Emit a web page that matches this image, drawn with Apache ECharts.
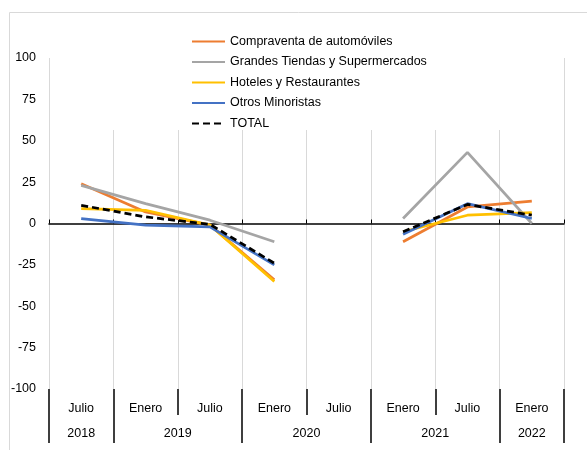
<!DOCTYPE html>
<html>
<head>
<meta charset="utf-8">
<script src="https://cdn.jsdelivr.net/npm/echarts@6/dist/echarts.min.js"></script>
<style>
  html, body { margin: 0; padding: 0; background: #fff; }
  #chart { width: 587px; height: 450px; }
</style>
</head>
<body>
<div id="chart"></div>
<script>
// categorias del eje (mes / año)
const meses = ["Julio", "Enero", "Julio", "Enero", "Julio", "Enero", "Julio", "Enero"];
const anios = ["2018", "2019", "2020", "2021", "2022"];
// posiciones de los años sobre el eje de meses (0..8)
const aniosPos = [0.5, 2, 4, 6, 7.5];
const aniosCortes = [0, 1, 3, 5, 7, 8];
const yTicks = [-100, -75, -50, -25, 0, 25, 50, 75, 100];

// series (Julio 2020 sin dato)
const compraventa = [24, 7, -1, -34, null, -11, 10, 13.5];
const grandesTiendas = [23, 12, 2, -11, null, 3, 43, 0];
const hoteles = [9, 8, -1, -35, null, -5, 5, 6.5];
const otros = [3, -1, -2, -25, null, -6.5, 12, 3];
const total = [11, 4, -0.5, -24, null, -5, 11.5, 5];

const fuente = "Liberation Sans";

let myChart = echarts.init(document.getElementById("chart"));

function linea(name, data, color, dashed) {
  return {
    name: name,
    type: "line",
    data: data,
    xAxisIndex: 0,
    symbol: "none",
    connectNulls: false,
    lineStyle: { color: color, width: 2.75, type: dashed ? [7, 4] : "solid" },
    itemStyle: { color: color },
    emphasis: { disabled: true },
  };
}

myChart.setOption({
  animation: false,
  textStyle: { fontFamily: fuente },
  graphic: [
    {
      type: "rect",
      silent: true,
      z: -10,
      shape: { x: 9.5, y: 12.5, width: 700, height: 600 },
      style: { fill: "none", stroke: "#d9d9d9", lineWidth: 1 },
    },
  ],
  legend: {
    orient: "vertical",
    left: 105,
    top: 15,
    padding: [20, 86, 0, 86],
    backgroundColor: "#fff",
    itemWidth: 33,
    itemHeight: 14,
    itemGap: 7.5,
    itemStyle: { opacity: 0 },
    textStyle: { fontSize: 12.5, color: "#000", fontFamily: fuente },
    data: [
      "Compraventa de automóviles",
      "Grandes Tiendas y Supermercados",
      "Hoteles y Restaurantes",
      "Otros Minoristas",
      "TOTAL",
    ],
  },
  grid: { left: 49, right: 23, top: 58, bottom: 61 },
  xAxis: [
    {
      type: "category",
      data: meses,
      boundaryGap: true,
      axisLine: { onZero: true, lineStyle: { color: "#000", width: 1.5 } },
      axisTick: { show: true, inside: true, length: 4, interval: 0, lineStyle: { color: "#000" } },
      axisLabel: { show: false },
      splitLine: { show: true, interval: 0, lineStyle: { color: "#d9d9d9", width: 1 } },
    },
    {
      type: "category",
      data: meses,
      position: "bottom",
      boundaryGap: true,
      axisLine: { show: false, onZero: false },
      axisTick: { show: true, length: 26, interval: 0, lineStyle: { color: "#000", width: 1.5 } },
      axisLabel: { interval: 0, margin: 13, fontSize: 12.5, color: "#000", fontFamily: fuente },
      splitLine: { show: false },
    },
    {
      type: "value",
      min: 0,
      max: 8,
      position: "bottom",
      axisLine: { show: false, onZero: false },
      axisTick: { show: true, length: 54, customValues: aniosCortes, lineStyle: { color: "#000", width: 1.5 } },
      axisLabel: {
        customValues: aniosPos,
        margin: 38,
        fontSize: 12.5,
        color: "#000",
        fontFamily: fuente,
        formatter: (v) => anios[aniosPos.indexOf(v)] || "",
      },
      splitLine: { show: false },
    },
  ],
  yAxis: {
    type: "value",
    min: yTicks[0],
    max: yTicks[yTicks.length - 1],
    interval: 25,
    axisLine: { show: false },
    axisTick: { show: false },
    splitLine: { show: false },
    axisLabel: { margin: 13, fontSize: 12.5, color: "#000", fontFamily: fuente },
  },
  series: [
    linea("Compraventa de automóviles", compraventa, "#ED7D31"),
    linea("Grandes Tiendas y Supermercados", grandesTiendas, "#A5A5A5"),
    linea("Hoteles y Restaurantes", hoteles, "#FFC000"),
    linea("Otros Minoristas", otros, "#4472C4"),
    linea("TOTAL", total, "#000", true),
  ],
});
</script>
</body>
</html>
